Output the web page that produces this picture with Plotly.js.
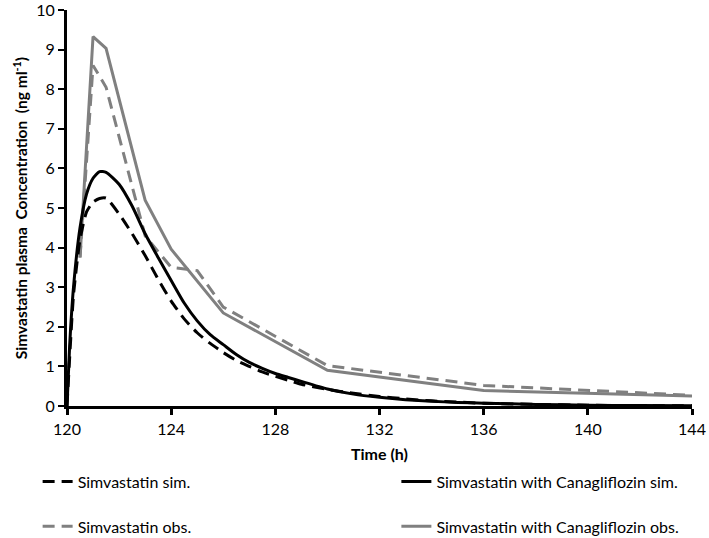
<!DOCTYPE html>
<html>
<head>
<meta charset="utf-8">
<script src="https://cdn.plot.ly/plotly-3.0.1.min.js"></script>
<style>html,body{margin:0;padding:0;background:#fff;}#chart{width:709px;height:538px;}</style>
</head>
<body>
<div id="chart"></div>
<script>
// Simulated time grids (h)
var simTime = [120, 120.1, 120.25, 120.5, 120.75, 121, 121.25, 121.5, 122, 122.5, 123, 123.5, 124, 124.5, 125, 125.5, 126, 126.5, 127, 127.5, 128, 128.5, 129, 130, 131, 132, 133, 134, 135, 136, 138, 140, 142, 144];
// Simvastatin sim. (ng/ml)
var simvaSim = [0, 1.2, 2.8, 4.2, 4.9, 5.15, 5.24, 5.25, 4.85, 4.35, 3.8, 3.2, 2.65, 2.2, 1.85, 1.58, 1.35, 1.15, 1.0, 0.86, 0.75, 0.65, 0.55, 0.42, 0.32, 0.24, 0.18, 0.13, 0.1, 0.07, 0.04, 0.02, 0.01, 0.005];
// Simvastatin with Canagliflozin sim. (ng/ml)
var simvaCanaSim = [0, 1.5, 3.0, 4.5, 5.35, 5.75, 5.92, 5.9, 5.6, 5.05, 4.35, 3.75, 3.17, 2.6, 2.15, 1.8, 1.55, 1.3, 1.1, 0.95, 0.82, 0.72, 0.62, 0.43, 0.3, 0.22, 0.16, 0.12, 0.09, 0.07, 0.04, 0.02, 0.01, 0.005];
// Observed
var obsTime = [120.5, 121, 121.5, 123, 124, 125, 126, 130, 136, 144];
var simvaObs = [3.75, 8.6, 8.05, 4.3, 3.5, 3.42, 2.5, 1.02, 0.52, 0.27];
var obsTimeCana = [120.5, 121, 121.5, 123, 124, 126, 130, 136, 144];
var simvaCanaObs = [3.75, 9.33, 9.03, 5.2, 3.96, 2.35, 0.9, 0.39, 0.25];

var xTicks = [120, 124, 128, 132, 136, 140, 144];
var yTicks = [0, 1, 2, 3, 4, 5, 6, 7, 8, 9, 10];

var FONT = 'Lato, "Open Sans", sans-serif';
var GRAY = '#808080';

var traces = [
  {x: obsTimeCana, y: simvaCanaObs, mode: 'lines', name: 'Simvastatin with Canagliflozin obs.',
   line: {color: GRAY, width: 3}, legend: 'legend4'},
  {x: obsTime, y: simvaObs, mode: 'lines', name: 'Simvastatin obs.',
   line: {color: GRAY, width: 3, dash: '12px,7px'}, legend: 'legend3'},
  {x: simTime, y: simvaCanaSim, mode: 'lines', name: 'Simvastatin with Canagliflozin sim.',
   line: {color: '#000', width: 3, shape: 'spline', smoothing: 0.6}, legend: 'legend2'},
  {x: simTime, y: simvaSim, mode: 'lines', name: 'Simvastatin sim.',
   line: {color: '#000', width: 3, dash: '12px,7px', shape: 'spline', smoothing: 0.6}, legend: 'legend'}
];

function leg(x, y) {
  return {x: x, y: y, xanchor: 'left', yanchor: 'middle', bgcolor: 'rgba(0,0,0,0)',
          font: {family: FONT, size: 16, color: '#000'}};
}

var layout = {
  width: 709, height: 538,
  margin: {l: 67, r: 17, t: 10, b: 132, autoexpand: false},
  paper_bgcolor: '#fff', plot_bgcolor: '#fff',
  showlegend: true,
  legend: leg(-0.047, -0.191),
  legend2: leg(0.527, -0.191),
  legend3: leg(-0.047, -0.304),
  legend4: leg(0.527, -0.304),
  xaxis: {
    range: [120, 144], tickvals: xTicks, ticktext: xTicks.map(String), automargin: false,
    showgrid: false, zeroline: false, showline: true, linecolor: '#000', linewidth: 3,
    ticks: 'outside', ticklen: 6, tickwidth: 3, tickcolor: '#000', ticklabelstandoff: 1,
    tickfont: {family: FONT, size: 16, color: '#000'},
    title: {text: '<b>Time (h)</b>', font: {family: FONT, size: 16, color: '#000'}, standoff: 12}
  },
  yaxis: {
    range: [0, 10], tickvals: yTicks, ticktext: yTicks.map(String), automargin: false,
    showgrid: false, zeroline: false, showline: true, linecolor: '#000', linewidth: 3,
    ticks: 'outside', ticklen: 6, tickwidth: 2, tickcolor: '#000', ticklabeloverflow: 'allow',
    tickfont: {family: FONT, size: 16, color: '#000'},
    title: {text: '<b>Simvastatin plasma  Concentration  (ng ml<sup>-1</sup>)</b>', font: {family: FONT, size: 15.5, color: '#000'}, standoff: 5}
  }
};

Plotly.newPlot('chart', traces, layout, {displayModeBar: false, staticPlot: true});
</script>
</body>
</html>
